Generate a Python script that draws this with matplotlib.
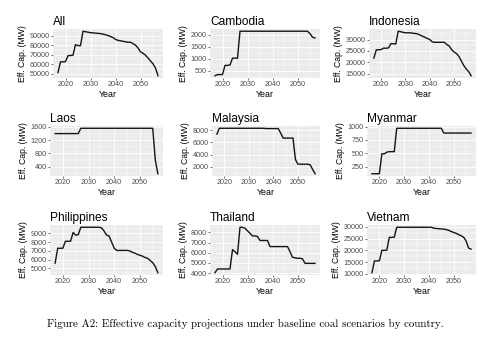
import numpy as np
import matplotlib.pyplot as plt
from matplotlib.ticker import FixedLocator

plt.rcParams['font.family'] = ['Liberation Sans', 'DejaVu Sans']

years = np.arange(2017, 2058)

names = ['All', 'Cambodia', 'Indonesia', 'Laos', 'Malaysia', 'Myanmar',
         'Philippines', 'Thailand', 'Vietnam']

all_cap = [51400, 62500, 62500, 62800, 69000, 69200, 69500, 80500, 79500, 79500,
           94500, 94000, 93500, 93000, 92800, 92500, 92300, 92000, 91500, 90800,
           90000, 89000, 87800, 86000, 85000, 84500, 84000, 83500, 83000, 83000,
           81500, 80000, 77000, 73000, 71500, 69500, 66500, 63500, 60500, 56000,
           48000]
cambodia = [300, 350, 350, 350, 730, 730, 750, 1030, 1030, 1030,
            2150, 2150, 2150, 2150, 2150, 2150, 2150, 2150, 2150, 2150,
            2150, 2150, 2150, 2150, 2150, 2150, 2150, 2150, 2150, 2150,
            2150, 2150, 2150, 2150, 2150, 2150, 2150, 2150, 2050, 1900,
            1870]
indonesia = [21800, 25500, 25500, 25600, 26200, 26200, 26300, 28200, 28200, 28000,
             33700, 33500, 33200, 33000, 33000, 33000, 32800, 32700, 32500, 32000,
             31500, 31000, 30500, 30000, 29000, 28800, 28800, 28800, 28800, 28800,
             27800, 27200, 25500, 24500, 23800, 22500, 20500, 18500, 17000, 15800,
             14000]
laos = [1400, 1400, 1400, 1400, 1400, 1400, 1400, 1400, 1400, 1400,
        1560, 1560, 1560, 1560, 1560, 1560, 1560, 1560, 1560, 1560,
        1560, 1560, 1560, 1560, 1560, 1560, 1560, 1560, 1560, 1560,
        1560, 1560, 1560, 1560, 1560, 1560, 1560, 1560, 1560, 600,
        190]
malaysia = [7350, 8300, 8300, 8300, 8300, 8300, 8300, 8300, 8300, 8300,
            8300, 8300, 8300, 8300, 8300, 8300, 8300, 8300, 8300, 8300,
            8250, 8250, 8250, 8250, 8250, 8250, 7500, 6700, 6700, 6700,
            6700, 6700, 3200, 2450, 2450, 2450, 2450, 2450, 2350, 1600,
            900]
myanmar = [115, 115, 115, 115, 490, 490, 520, 530, 530, 530,
           970, 970, 970, 970, 970, 970, 970, 970, 970, 970,
           970, 970, 970, 970, 970, 970, 970, 970, 970, 880,
           880, 880, 880, 880, 880, 880, 880, 880, 880, 880,
           880]
philippines = [5600, 7300, 7300, 7300, 8100, 8100, 8100, 9100, 8800, 8850,
               9700, 9700, 9700, 9700, 9700, 9700, 9700, 9700, 9650, 9300,
               8800, 8700, 8000, 7300, 7050, 7050, 7050, 7050, 7050, 7000,
               6850, 6750, 6600, 6500, 6400, 6250, 6150, 5900, 5650, 5200,
               4500]
thailand = [4030, 4400, 4400, 4400, 4400, 4400, 4400, 6300, 6100, 5850,
            8500, 8500, 8400, 8150, 7900, 7650, 7650, 7600, 7200, 7200,
            7200, 7200, 6600, 6600, 6600, 6600, 6600, 6600, 6600, 6600,
            6100, 5550, 5500, 5450, 5450, 5400, 4950, 4950, 4950, 4950,
            4950]
vietnam = [10500, 15500, 15500, 15600, 20000, 20000, 20100, 25500, 25500, 25600,
           29800, 29800, 29800, 29800, 29800, 29800, 29800, 29800, 29800, 29800,
           29800, 29800, 29800, 29800, 29800, 29400, 29300, 29200, 29100, 29000,
           28800, 28500, 28000, 27600, 27200, 26700, 26200, 25600, 24000, 21000,
           20500]

series = [all_cap, cambodia, indonesia, laos, malaysia, myanmar,
          philippines, thailand, vietnam]

yticks = [[50000, 60000, 70000, 80000, 90000],
          [500, 1000, 1500, 2000],
          [15000, 20000, 25000, 30000],
          [400, 800, 1200, 1600],
          [2000, 4000, 6000, 8000],
          [250, 500, 750, 1000],
          [5000, 6000, 7000, 8000, 9000],
          [4000, 5000, 6000, 7000, 8000],
          [10000, 15000, 20000, 25000, 30000]]
xticks = [2020, 2030, 2040, 2050]

# panel boxes in pixels: left, top, right, bottom
W, H = 500, 340
lefts = [53, 210, 369, 50, 212, 367, 50, 210, 367]
rights = [163, 320, 476]
tops = [29, 126, 225]
bottoms = [78, 176, 275]

fig = plt.figure(figsize=(5, 3.4), dpi=100)
fig.patch.set_facecolor('white')

for i, name in enumerate(names):
    r, c = divmod(i, 3)
    l, t, rr, b = lefts[i], tops[r], rights[c], bottoms[r]
    ax = fig.add_axes([l / W, 1 - b / H, (rr - l) / W, (b - t) / H])
    ax.set_facecolor('#EBEBEB')
    ax.plot(years, series[i], color='#141414', lw=1.0)

    lo, hi = min(series[i]), max(series[i])
    pad = 0.05 * (hi - lo)
    ax.set_ylim(lo - pad, hi + pad)
    ax.set_xlim(2015, 2059)

    yt = yticks[i]
    step = yt[1] - yt[0]
    ax.yaxis.set_major_locator(FixedLocator(yt))
    ax.yaxis.set_minor_locator(FixedLocator([v - step / 2 for v in yt] + [yt[-1] + step / 2]))
    ax.xaxis.set_major_locator(FixedLocator(xticks))
    ax.xaxis.set_minor_locator(FixedLocator([2015, 2025, 2035, 2045, 2055]))
    ax.grid(which='major', color='white', lw=0.6)
    ax.grid(which='minor', color='white', lw=0.3)
    ax.set_axisbelow(True)
    for s in ax.spines.values():
        s.set_visible(False)
    ax.tick_params(which='major', length=1.5, width=0.5, color='#333333',
                   labelsize=5.2, labelcolor='#4D4D4D', pad=1)
    ax.tick_params(which='minor', length=0)

    ax.set_title(name, loc='left', fontsize=8.6, pad=3)
    ax.set_xlabel('Year', fontsize=6.4, labelpad=1.2)
    ax.set_ylabel('Eff. Cap. (MW)', fontsize=6.2, labelpad=2)

fig.text(0.491, 1 - 324 / H,
         'Figure A2: Effective capacity projections under baseline coal scenarios by country.',
         family='cmr10', fontsize=7.9, ha='center', va='center')

fig.savefig('out.png', dpi=100)
